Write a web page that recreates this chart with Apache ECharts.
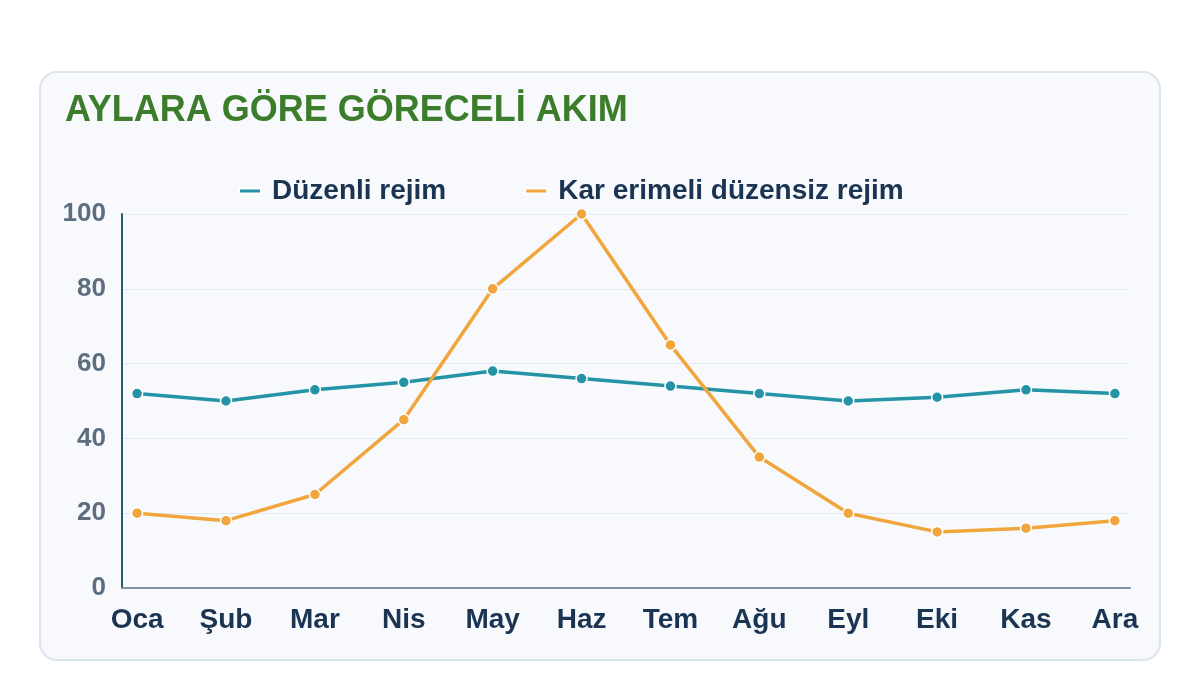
<!DOCTYPE html>
<html>
<head>
<meta charset="utf-8">
<script src="https://cdn.jsdelivr.net/npm/echarts@6/dist/echarts.min.js"></script>
<style>
  html, body { margin: 0; padding: 0; background: #ffffff; }
  #card {
    position: absolute; left: 39px; top: 71px; width: 1118px; height: 586px;
    border: 2px solid #dbe5ee; border-radius: 18px; background: #f7f9fc;
  }
  #main { position: absolute; left: 0; top: 0; width: 1200px; height: 700px; }
</style>
</head>
<body>
<div id="card"></div>
<div id="main"></div>
<script>
var months = ['Oca', 'Şub', 'Mar', 'Nis', 'May', 'Haz', 'Tem', 'Ağu', 'Eyl', 'Eki', 'Kas', 'Ara'];
var duzenli = [52, 50, 53, 55, 58, 56, 54, 52, 50, 51, 53, 52];
var karErimeli = [20, 18, 25, 45, 80, 100, 65, 35, 20, 15, 16, 18];
var yTicks = [0, 20, 40, 60, 80, 100];

function pairs(arr) {
    return arr.map(function (v, i) { return [i, v]; });
}
var monthIdx = months.map(function (m, i) { return i; });

var myChart = echarts.init(document.getElementById('main'));
var font = 'Liberation Sans, Arial, sans-serif';

var option = {
    backgroundColor: 'transparent',
    title: {
        text: 'AYLARA GÖRE GÖRECELİ AKIM',
        left: 60,
        top: 88,
        textStyle: { color: '#3b7d2b', fontSize: 36, fontWeight: 'bold', fontFamily: font }
    },
    legend: {
        left: 238,
        top: 177,
        padding: 0,
        icon: 'roundRect',
        itemWidth: 22,
        itemHeight: 5,
        itemGap: 78,
        textStyle: { color: '#1b3452', fontSize: 28, fontWeight: 'bold', fontFamily: font, padding: [0, 0, 0, 6] }
    },
    grid: { left: 122, right: 70, top: 214, bottom: 112 },
    xAxis: {
        type: 'value',
        min: -0.17,
        max: 11.17,
        splitLine: { show: false },
        axisTick: { show: false },
        axisLine: { show: true, onZero: false, lineStyle: { color: '#7f93a3', width: 2 } },
        axisLabel: {
            margin: 18,
            color: '#1b3452',
            fontSize: 28,
            fontWeight: 'bold',
            fontFamily: font,
            customValues: monthIdx,
            formatter: function (v) { return months[Math.round(v)] || ''; }
        }
    },
    yAxis: {
        type: 'value',
        min: yTicks[0],
        max: yTicks[yTicks.length - 1],
        interval: 20,
        axisLine: { show: true, onZero: false, lineStyle: { color: '#2d5b6e', width: 2 } },
        axisTick: { show: false },
        splitLine: { lineStyle: { color: '#e3eaf1', width: 1 } },
        axisLabel: { margin: 16, color: '#5d6d80', fontSize: 26, fontWeight: 'bold', fontFamily: font }
    },
    series: [
        {
            name: 'Düzenli rejim',
            type: 'line',
            data: pairs(duzenli),
            color: '#2493a5',
            lineStyle: { width: 3.5 },
            symbol: 'circle',
            symbolSize: 11,
            itemStyle: { color: '#2493a5', borderColor: '#ffffff', borderWidth: 1.5 }
        },
        {
            name: 'Kar erimeli düzensiz rejim',
            type: 'line',
            data: pairs(karErimeli),
            color: '#f0a53d',
            lineStyle: { width: 3.5 },
            symbol: 'circle',
            symbolSize: 11,
            itemStyle: { color: '#f0a53d', borderColor: '#ffffff', borderWidth: 1.5 }
        }
    ]
};
myChart.setOption(option);
</script>
</body>
</html>
